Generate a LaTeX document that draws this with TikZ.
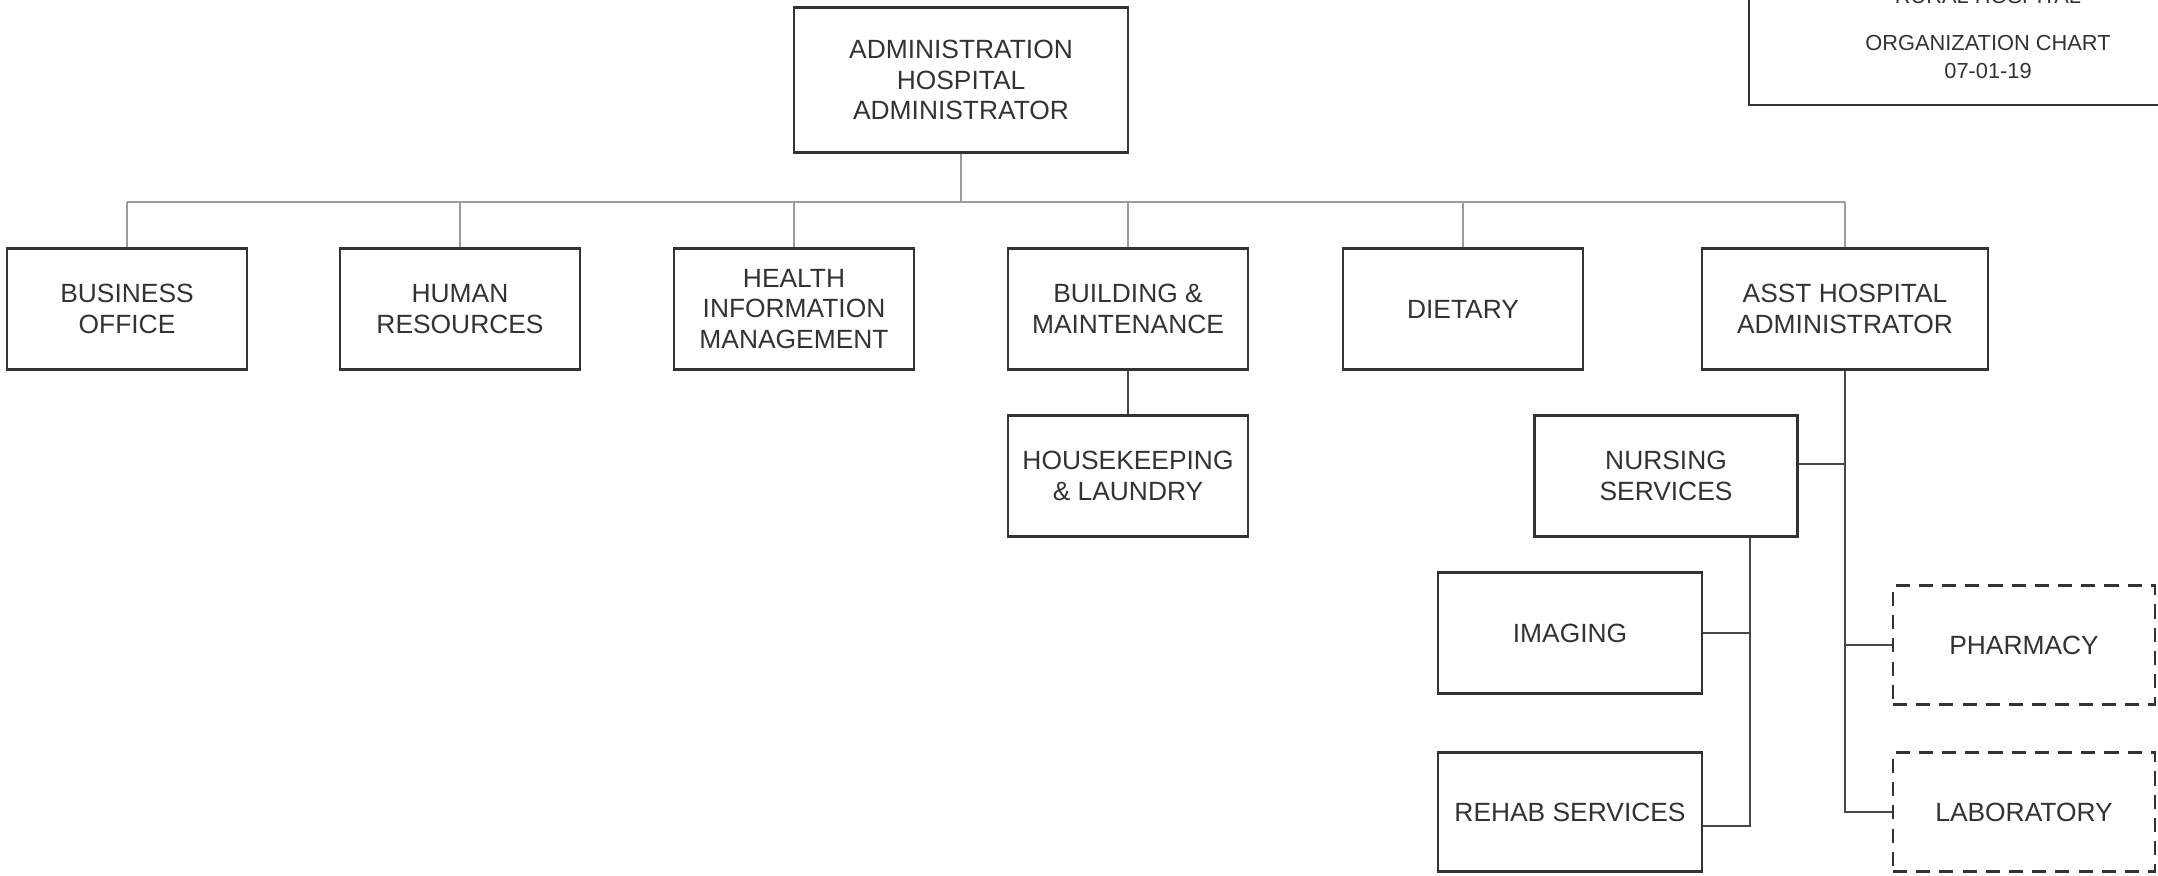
\documentclass[tikz,border=0pt]{standalone}
\usepackage{fontspec}
\setmainfont{Liberation Sans}
\usepackage{xcolor}
\usetikzlibrary{positioning}

\definecolor{inkgray}{HTML}{333333}
\definecolor{busgray}{HTML}{9C9C9C}
\definecolor{linkgray}{HTML}{474747}

\begin{document}
\begin{tikzpicture}[x=0.01cm, y=-0.01cm, line width=0.7pt,
    unit/.style={draw=inkgray, text=inkgray, line width=0.75pt, minimum width=2.4cm,
        minimum height=1.21cm, inner sep=0pt, align=center,
        font=\fontsize{7.5}{8.6}\selectfont},
    dashunit/.style={unit, dash pattern=on 4pt off 2.6pt, minimum width=2.62cm, minimum height=1.19cm},
    titlebox/.style={draw=inkgray, line width=0.75pt, minimum width=4.8cm, minimum height=1.6cm},
    titletext/.style={text=inkgray, inner sep=0pt, font=\fontsize{6.2}{7}\selectfont},
    busline/.style={draw=busgray, line width=0.45pt},
    link/.style={draw=linkgray, line width=0.55pt}]
    \useasboundingbox (0,0) rectangle (2158,875);

    % title block, cut by the page edge
    \node[titlebox] (title) at (1989,25) {};
    \node[titletext, anchor=base] (rural) at (1988,3) {RURAL HOSPITAL};
    \node[titletext, anchor=base] (chart) at (1988,50) {ORGANIZATION CHART};
    \node[titletext, anchor=base] (date) at (1988,78) {07-01-19};

    % top
    \node[unit, minimum width=3.34cm, minimum height=1.45cm] (admin) at (961,80) {ADMINISTRATION\\HOSPITAL\\ADMINISTRATOR};

    % first row
    \foreach \nm/\x/\txt in {busin/127/{BUSINESS\\OFFICE}, human/460/{HUMAN\\RESOURCES},
        him/794/{HEALTH\\INFORMATION\\MANAGEMENT}, build/1128/{BUILDING \&\\MAINTENANCE},
        diet/1463/{DIETARY}} {
        \node[unit] (\nm) at (\x,309) {\txt};
    }
    \node[unit, minimum width=2.86cm] (asst) at (1845,309) {ASST HOSPITAL\\ADMINISTRATOR};

    % lower boxes
    \node[unit] (house) at (1128,476) {HOUSEKEEPING\\\& LAUNDRY};
    \node[unit, minimum width=2.63cm] (nurse) at (1666,476) {NURSING\\SERVICES};
    \node[unit, minimum width=2.64cm] (img) at (1570,633) {IMAGING};
    \node[unit, minimum width=2.64cm, minimum height=1.19cm] (rehab) at (1570,812) {REHAB SERVICES};
    \node[dashunit] (pharm) at (2024,645) {PHARMACY};
    \node[dashunit] (lab) at (2024,812) {LABORATORY};

    % bus under administration
    \coordinate (bus) at (961,202);
    \draw[busline] (admin.south) -- (admin.south |- bus);
    \draw[busline] (busin.north |- bus) -- (asst.north |- bus);
    \foreach \nm in {busin,human,him,build,diet,asst} {
        \draw[busline] (\nm.north) -- (\nm.north |- bus);
    }

    % lower links
    \draw[link] (build.south) -- (house.north);
    \draw[link] (asst.south) |- (lab.west);
    \draw[link] (pharm.west) -- (pharm.west -| asst.south);
    \coordinate (nursetap) at ([yshift=0.12cm]nurse.east);
    \draw[link] (nursetap) -- (nursetap -| asst.south);
    \coordinate (nursedrop) at ([xshift=0.84cm]nurse.south);
    \draw[link] (nursedrop) |- ([yshift=-0.14cm]rehab.east);
    \draw[link] (img.east) -- (img.east -| nursedrop);
\end{tikzpicture}
\end{document}
